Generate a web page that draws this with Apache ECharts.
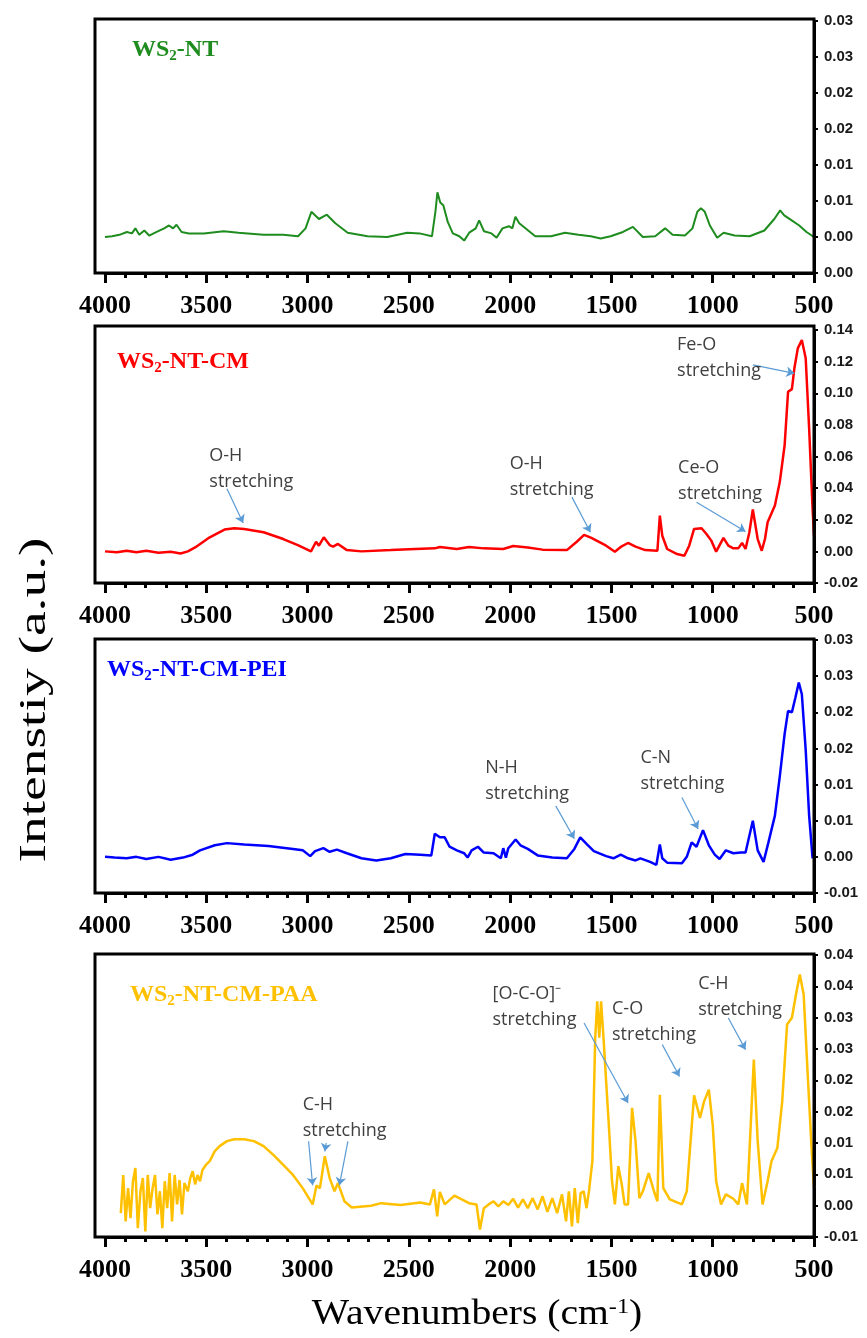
<!DOCTYPE html>
<html>
<head>
<meta charset="UTF-8">
<title>FTIR spectra</title>
<script src="https://cdn.jsdelivr.net/npm/echarts@6.0.0/dist/echarts.min.js"></script>
<style>
  html, body { margin: 0; padding: 0; background: #fff; }
  #chart { width: 867px; height: 1338px; }
</style>
</head>
<body>
<div id="chart"></div>
<script>
// ---- values (wavenumber in cm-1, intensity a.u.) ----
var wnNT = [4000,3965,3929,3892,3867,3850,3831,3806,3782,3745,3708,3684,3664,3647,3622,3586,3512,3414,3341,3218,3120,3047,3010,2981,2944,2905,2863,2802,2704,2606,2508,2447,2386,2369,2359,2345,2330,2308,2283,2251,2227,2202,2170,2153,2129,2092,2067,2038,2006,1989,1974,1955,1920,1876,1798,1729,1663,1602,1553,1504,1443,1394,1345,1284,1235,1198,1137,1100,1076,1058,1039,1014,978,946,892,818,745,696,667,647,610,573,537,500];
var abNT = [0,0.0001,0.0003,0.0007,0.0005,0.0012,0.0003,0.0009,0.0002,0.0007,0.0012,0.0016,0.0012,0.0017,0.0007,0.0005,0.0005,0.0008,0.0006,0.0003,0.0003,0.0001,0.0012,0.0035,0.0025,0.0031,0.0019,0.0006,0.0001,0,0.0006,0.0005,0.0001,0.0035,0.0062,0.0048,0.0044,0.0021,0.0005,0.0001,-0.0005,0.0006,0.0012,0.0023,0.0008,0.0005,-0.0001,0.0012,0.0015,0.0012,0.0028,0.0019,0.0011,0.0001,0.0001,0.0006,0.0003,0.0001,-0.0002,0.0001,0.0007,0.0014,0,0.0001,0.0012,0.0003,0.0002,0.0012,0.0035,0.004,0.0035,0.0016,-0.0001,0.0006,0.0002,0.0001,0.0009,0.0025,0.0037,0.003,0.0023,0.0016,0.0007,0];

var wnCM = [4000,3941,3893,3845,3796,3736,3676,3627,3591,3555,3483,3410,3362,3313,3217,3120,3048,2983,2958,2944,2920,2891,2874,2850,2806,2734,2589,2468,2372,2347,2263,2203,2130,2034,1985,1913,1840,1720,1671,1635,1599,1526,1483,1454,1418,1381,1333,1273,1261,1249,1225,1176,1140,1116,1092,1055,1031,1007,983,947,923,898,874,855,838,819,802,778,758,742,729,693,669,645,628,609,597,580,560,541,524,507,500];
var abCM = [0,-0.0006,0.0004,-0.0006,0.0004,-0.0008,-0.0002,-0.0013,0,0.0025,0.0089,0.0138,0.0146,0.0142,0.0121,0.0078,0.004,0,0.0061,0.0036,0.0089,0.004,0.003,0.0047,0.0008,0,0.0008,0.0015,0.0019,0.0028,0.0015,0.0028,0.0019,0.0015,0.0034,0.0025,0.0011,0.0008,0.0061,0.0104,0.0085,0.0036,-0.0002,0.0028,0.0053,0.003,0.0008,0.0004,0.0226,0.0099,0.0015,-0.0017,-0.0028,0.0036,0.0142,0.0146,0.011,0.0068,-0.0002,0.0085,0.0036,0.0019,0.0019,0.0053,0.0015,0.0121,0.0265,0.0078,0.0004,0.0078,0.0184,0.029,0.0438,0.0671,0.1009,0.1026,0.1157,0.1284,0.1337,0.1221,0.0777,0.0269,0.0099];

var wnPEI = [4000,3953,3893,3845,3796,3736,3676,3615,3567,3531,3458,3398,3313,3193,3072,3024,2987,2963,2922,2891,2855,2806,2734,2661,2589,2517,2444,2389,2372,2347,2323,2299,2263,2227,2210,2190,2159,2130,2082,2046,2034,2021,2009,1973,1949,1913,1864,1792,1720,1683,1654,1623,1587,1526,1490,1454,1418,1381,1357,1309,1278,1261,1249,1225,1152,1128,1104,1080,1048,1019,990,966,935,898,862,838,802,778,749,725,693,669,645,628,609,592,575,560,541,524,507];
var abPEI = [0,-0.0001,-0.0002,0,-0.0003,0,-0.0004,-0.0001,0.0003,0.0009,0.0016,0.0019,0.0017,0.0015,0.0011,0.0009,0.0001,0.0008,0.0012,0.0007,0.001,0.0005,-0.0002,-0.0005,-0.0002,0.0004,0.0003,0.0002,0.0032,0.0027,0.0027,0.0014,0.0009,0.0005,-0.0001,0.0009,0.0014,0.0006,0.0005,-0.0002,0.0012,-0.0001,0.0012,0.0024,0.0016,0.0011,0.0002,-0.0001,-0.0002,0.0011,0.0027,0.0018,0.0008,0.0001,-0.0002,0.0003,-0.0002,-0.0005,-0.0002,-0.0007,-0.0011,0.0017,-0.0002,-0.0008,-0.0009,0,0.002,0.0014,0.0037,0.0016,0.0003,-0.0003,0.0009,0.0005,0.0006,0.0006,0.005,0.0009,-0.0007,0.002,0.0057,0.0111,0.017,0.0202,0.02,0.022,0.0241,0.0225,0.0148,0.0057,-0.0002];

var wnPAA = [3922,3910,3898,3886,3874,3862,3850,3838,3825,3813,3801,3789,3777,3765,3753,3741,3729,3717,3705,3693,3681,3669,3656,3644,3632,3620,3608,3591,3579,3567,3555,3543,3531,3519,3502,3483,3458,3434,3398,3362,3313,3265,3217,3169,3120,3072,3024,2975,2956,2939,2915,2891,2867,2850,2818,2782,2686,2637,2541,2444,2396,2376,2360,2347,2323,2275,2203,2166,2149,2130,2106,2082,2058,2034,2009,1985,1961,1937,1913,1889,1864,1840,1816,1792,1768,1744,1724,1710,1695,1681,1666,1652,1637,1623,1611,1594,1580,1570,1560,1551,1538,1526,1512,1497,1483,1466,1449,1435,1418,1398,1381,1362,1345,1316,1290,1273,1261,1244,1212,1152,1128,1092,1063,1043,1019,1000,983,959,935,898,874,855,831,797,778,754,729,710,681,657,633,609,589,570,551,531,512,500];
var abPAA = [-0.0012,0.0049,-0.0025,0.0028,-0.002,0.0039,0.006,-0.0036,0.0023,0.0044,-0.0041,0.0049,-0.0004,0.0028,0.0049,-0.0014,0.0023,-0.0036,0.0039,-0.0004,0.0052,-0.0025,0.0049,0.0002,0.0041,-0.0014,0.0036,0.0023,0.0044,0.0055,0.0034,0.0049,0.0039,0.0057,0.0065,0.0071,0.0087,0.0095,0.0103,0.0106,0.0106,0.0103,0.0095,0.0081,0.0065,0.0049,0.0028,0.0002,0.0032,0.0028,0.0079,0.0044,0.0023,0.0036,0.0007,-0.0003,0,0.0004,0.0001,0.0005,0.0002,0.0026,-0.0017,0.0022,0.0002,0.0016,0.0004,0.0002,-0.0038,-0.0004,0.0002,0.0007,-0.0001,0.0007,0.0001,0.0011,-0.0003,0.001,-0.0004,0.0012,-0.0006,0.0015,-0.001,0.0012,-0.0012,0.0018,-0.0025,0.0023,-0.0033,0.0028,-0.0028,0.002,0.0023,-0.0004,0.0023,0.0071,0.0268,0.0326,0.0268,0.0326,0.0262,0.0198,0.0124,0.0039,0.0002,0.0063,0.0034,0.0002,0.0002,0.0156,0.0103,0.0012,0.0023,0.0052,0.0023,0.0007,0.0177,0.0028,0.001,0.0002,0.0023,0.0176,0.014,0.0166,0.0185,0.0129,0.0039,0.0002,0.0018,0.0011,0.0002,0.0036,0.0002,0.0233,0.0103,0.0002,0.0039,0.0071,0.0092,0.0166,0.0289,0.03,0.0337,0.0369,0.0337,0.0209,0.0092,0.0028];

// right-hand tick labels, bottom to top, exactly as printed
var ticksNT  = ['0.00','0.00','0.01','0.01','0.02','0.02','0.03','0.03'];
var ticksCM  = ['-0.02','0.00','0.02','0.04','0.06','0.08','0.10','0.12','0.14'];
var ticksPEI = ['-0.01','0.00','0.01','0.01','0.02','0.02','0.03','0.03'];
var ticksPAA = ['-0.01','0.00','0.01','0.01','0.02','0.02','0.03','0.03','0.04','0.04'];

// band annotations: text anchor and arrows, in data coordinates
var notesCM = [
  {text: 'O-H\nstretching', at: [3485, 0.052], arrows: [[[3398, 0.0396], [3318, 0.018]]]},
  {text: 'O-H\nstretching', at: [2002, 0.0468], arrows: [[[1695, 0.0343], [1604, 0.0121]]]},
  {text: 'Ce-O\nstretching', at: [1171, 0.0449], arrows: [[[1080, 0.0311], [838, 0.0125]]]},
  {text: 'Fe-O\nstretching', at: [1176, 0.1221], arrows: [[[802, 0.1179], [597, 0.1126]]]}
];
var notesPEI = [
  {text: 'N-H\nstretching', at: [2123, 0.01045], arrows: [[[1775, 0.00705], [1683, 0.0025]]]},
  {text: 'C-N\nstretching', at: [1357, 0.01195], arrows: [[[1152, 0.0082], [1072, 0.00386]]]}
];
var notesPAA = [
  {text: 'C-H\nstretching', at: [3024, 0.01404], arrows: [
    [[2995, 0.01027], [2975, 0.00324]],
    [[2908, 0.0100], [2915, 0.00867]],
    [[2801, 0.01027], [2843, 0.00324]]
  ]},
  {text: '[O-C-O]⁻\nstretching', at: [2087, 0.0318], arrows: [[[1635, 0.02915], [1418, 0.01638]]]},
  {text: 'C-O\nstretching', at: [1497, 0.0294], arrows: [[[1249, 0.0257], [1164, 0.0206]]]},
  {text: 'C-H\nstretching', at: [1072, 0.0333], arrows: [[[923, 0.02995], [838, 0.0249]]]}
];

// ---- layout ----
var panels = [
  {suffix: '-NT', color: '#1E8C1E', wn: wnNT, ab: abNT, ticks: ticksNT, notes: [],
   yMin: -0.005, yMax: 0.03, yStep: 0.005, top: 21, height: 252, boxTop: 19, titleLeft: 132, titleMid: 50, width: 2},
  {suffix: '-NT-CM', color: '#FF0000', wn: wnCM, ab: abCM, ticks: ticksCM, notes: notesCM,
   yMin: -0.02, yMax: 0.14, yStep: 0.02, top: 330, height: 253, boxTop: 326, titleLeft: 117, titleMid: 362, width: 2.5},
  {suffix: '-NT-CM-PEI', color: '#0000FF', wn: wnPEI, ab: abPEI, ticks: ticksPEI, notes: notesPEI,
   yMin: -0.005, yMax: 0.03, yStep: 0.005, top: 640, height: 253, boxTop: 639, titleLeft: 107, titleMid: 670, width: 2.5},
  {suffix: '-NT-CM-PAA', color: '#FFC000', wn: wnPAA, ab: abPAA, ticks: ticksPAA, notes: notesPAA,
   yMin: -0.005, yMax: 0.04, yStep: 0.005, top: 955, height: 282, boxTop: 954, titleLeft: 130, titleMid: 995, width: 2.5}
];

var GRID_LEFT = 105, GRID_RIGHT = 53, BOX_LEFT = 95, BOX_RIGHT = 814;
var serif = '"Liberation Serif", "Times New Roman", serif';

var grid = [], xAxis = [], yAxis = [], series = [], title = [], graphic = [];

panels.forEach(function (p, i) {
  grid.push({left: GRID_LEFT, right: GRID_RIGHT, top: p.top, height: p.height});

  xAxis.push({
    gridIndex: i, type: 'value', inverse: true, min: 500, max: 4000, interval: 500,
    axisLine: {show: true, onZero: false, lineStyle: {color: '#000', width: 3}},
    axisTick: {show: true, length: 10, lineStyle: {color: '#000', width: 3}},
    minorTick: {show: true, splitNumber: 5, length: 5, lineStyle: {color: '#000', width: 3}},
    splitLine: {show: false},
    axisLabel: {
      margin: 20, color: '#000', fontFamily: serif, fontWeight: 'bold', fontSize: 26,
      formatter: function (v) { return String(v); }
    }
  });

  yAxis.push({
    gridIndex: i, type: 'value', position: 'right',
    min: p.yMin, max: p.yMax, interval: p.yStep,
    axisLine: {show: true, lineStyle: {color: '#000', width: 3}},
    axisTick: {show: true, length: 4, lineStyle: {color: '#000', width: 2}},
    splitLine: {show: false},
    axisLabel: {
      margin: 10, color: '#1a1a1a', fontFamily: '"Liberation Sans", Arial, sans-serif',
      fontWeight: 'bold', fontSize: 15,
      formatter: function (v) { return p.ticks[Math.round((v - p.yMin) / p.yStep)]; }
    }
  });

  var arrows = [];
  p.notes.forEach(function (n) {
    n.arrows.forEach(function (a) { arrows.push([{coord: a[0]}, {coord: a[1]}]); });
  });

  series.push({
    type: 'line', xAxisIndex: i, yAxisIndex: i,
    data: p.wn.map(function (w, k) { return [w, p.ab[k]]; }),
    showSymbol: false, symbol: 'none',
    lineStyle: {color: p.color, width: p.width},
    itemStyle: {color: p.color},
    markPoint: {
      symbol: 'rect', symbolSize: 0, silent: true,
      label: {
        show: true, position: 'right', distance: 0, formatter: '{b}',
        color: '#404040', fontFamily: '"Open Sans", sans-serif', fontSize: 18, lineHeight: 26, align: 'left'
      },
      data: p.notes.map(function (n) { return {name: n.text, coord: n.at}; })
    },
    markLine: {
      symbol: ['none', 'arrow'], symbolSize: 8, silent: true,
      label: {show: false},
      lineStyle: {color: '#5B9BD5', width: 1.2, type: 'solid'},
      data: arrows
    }
  });

  title.push({
    text: '{m|WS}{s|2}{m|' + p.suffix + '}',
    left: p.titleLeft, top: p.titleMid - 13.5, padding: 0,
    textStyle: {
      rich: {
        m: {fontFamily: serif, fontWeight: 'bold', fontSize: 24, lineHeight: 27, color: p.color},
        s: {fontFamily: serif, fontWeight: 'bold', fontSize: 15, lineHeight: 15, padding: [12, 0, 0, 0], color: p.color}
      }
    }
  });

  graphic.push({
    type: 'rect', silent: true, z: 10,
    shape: {x: BOX_LEFT, y: p.boxTop, width: BOX_RIGHT - BOX_LEFT, height: p.top + p.height - p.boxTop},
    style: {fill: 'none', stroke: '#000', lineWidth: 3}
  });
});

graphic.push({
  type: 'text', x: 35, y: 700, rotation: Math.PI / 2, scaleX: 1.5, silent: true,
  style: {text: 'Intenstiy (a.u.)', fill: '#000', font: '37px ' + serif, align: 'center', verticalAlign: 'middle'}
});
graphic.push({
  type: 'text', x: 477, y: 1315, scaleX: 1.1, silent: true,
  style: {
    text: '{n|Wavenumbers (cm}{u|-1}{n|)}', align: 'center', verticalAlign: 'middle',
    rich: {
      n: {fontFamily: serif, fontSize: 36, lineHeight: 40, fill: '#000'},
      u: {fontFamily: serif, fontSize: 22, lineHeight: 22, padding: [0, 0, 16, 0], fill: '#000'}
    }
  }
});

var chart = echarts.init(document.getElementById('chart'));
chart.setOption({
  animation: false,
  backgroundColor: '#fff',
  title: title,
  grid: grid,
  xAxis: xAxis,
  yAxis: yAxis,
  series: series,
  graphic: graphic
});
</script>
</body>
</html>
